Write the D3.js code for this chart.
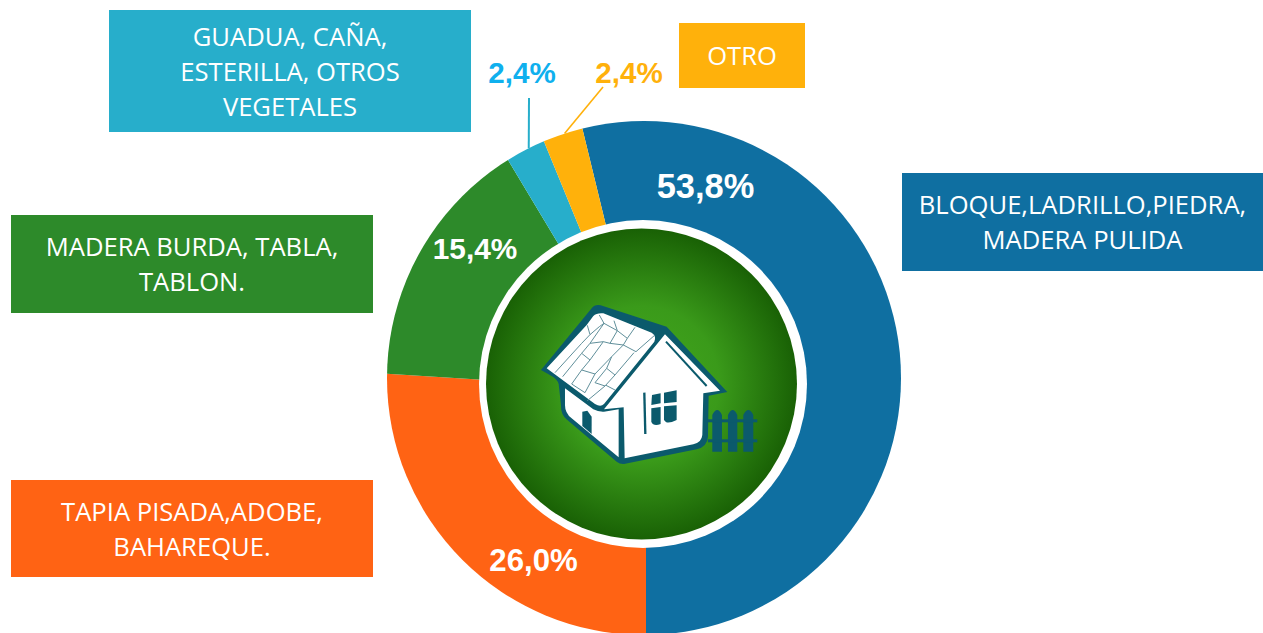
<!DOCTYPE html>
<html>
<head>
<meta charset="utf-8">
<script src="https://cdn.jsdelivr.net/npm/d3@7"></script>
<style>
  html, body { margin: 0; padding: 0; background: #fff; overflow: hidden; }
</style>
</head>
<body>
<div id="viz"></div>
<script>
"use strict";

const categories = ["BLOQUE,LADRILLO,PIEDRA, MADERA PULIDA", "TAPIA PISADA,ADOBE, BAHAREQUE.", "MADERA BURDA, TABLA, TABLON.", "GUADUA, CAÑA, ESTERILLA, OTROS VEGETALES", "OTRO"];
const values = [53.8, 26.0, 15.4, 2.4, 2.4];
const valueLabels = ["53,8%", "26,0%", "15,4%", "2,4%", "2,4%"];
const boxLines = [
    ["BLOQUE,LADRILLO,PIEDRA,", "MADERA PULIDA"],
    ["TAPIA PISADA,ADOBE,", "BAHAREQUE."],
    ["MADERA BURDA, TABLA,", "TABLON."],
    ["GUADUA, CAÑA,", "ESTERILLA, OTROS", "VEGETALES"],
    ["OTRO"]
];

const colors = ["#0f6fa1", "#ff6314", "#2d8a2a", "#27aecb", "#ffb10b"];
const labelColors = ["#fff", "#fff", "#fff", "#0fb0ee", "#ffb10b"];
const labelSizes = [34.4, 31.2, 29.8, 29.6, 29.6];
const labelPos = [[705.5, 186], [533.5, 560], [475, 248], [522, 72], [629, 72]];
const boxes = [[902, 173, 361, 98], [11, 480, 362, 97], [11, 215, 362, 98], [109, 10, 362, 122], [679, 23, 126, 65]];

const width = 1263, height = 633;
// the wedges meet lower than the centre of the outer circle, same as the picture
const pieX = 646, pieY = 390;
const cx = 644, cy = 378, outerR = 257;

const svg = d3.select("#viz").append("svg")
    .attr("width", width)
    .attr("height", height)
    .style("display", "block");

const defs = svg.append("defs");
defs.append("clipPath").attr("id", "ring")
    .append("circle").attr("cx", cx).attr("cy", cy).attr("r", outerR);

// pie goes clockwise, blue ends straight down at the bottom
const startAngle = Math.PI - values[0] / 100 * 2 * Math.PI;
const pie = d3.pie().sort(null)
    .startAngle(startAngle)
    .endAngle(startAngle + 2 * Math.PI);
const arc = d3.arc().innerRadius(0).outerRadius(320);
const arcs = pie(values);

const donut = svg.append("g").attr("clip-path", "url(#ring)")
    .append("g").attr("transform", `translate(${pieX},${pieY})`);
donut.selectAll("path")
    .data(arcs)
    .enter()
    .append("path")
    .attr("d", arc)
    .attr("fill", (d, i) => colors[i]);

// leader lines for the two small slices
const leaderEnds = { 3: [529, 98], 4: [603, 87] };
Object.keys(leaderEnds).forEach(i => {
    const a = (arcs[i].startAngle + arcs[i].endAngle) / 2;
    svg.append("line")
        .attr("x1", cx + outerR * Math.sin(a))
        .attr("y1", cy - outerR * Math.cos(a))
        .attr("x2", leaderEnds[i][0])
        .attr("y2", leaderEnds[i][1])
        .attr("stroke", colors[i])
        .attr("stroke-width", i == 3 ? 2 : 1.6);
});

// centre disc
const grad = defs.append("radialGradient").attr("id", "disc");
grad.append("stop").attr("offset", "0%").attr("stop-color", "#44a81e");
grad.append("stop").attr("offset", "50%").attr("stop-color", "#3a9a1a");
grad.append("stop").attr("offset", "100%").attr("stop-color", "#196105");

svg.append("circle").attr("cx", 643).attr("cy", 384).attr("r", 164).attr("fill", "#fff");
svg.append("circle").attr("cx", 641.5).attr("cy", 384).attr("r", 155.5).attr("fill", "url(#disc)");

// house icon, traced in zoom coordinates
const dark = "#0b5a6c";
const house = svg.append("g").attr("transform", "translate(480,220) scale(0.3333)");
house.append("path").attr("fill", dark)
    .attr("d", "M183,450 L335,265 Q345,252 362,256 L560,320 L742,516 L686,527 L684,650 Q682,680 650,688 L432,732 Q420,733 410,725 L262,600 Q242,585 243,555 L236,492 Q232,478 215,468 Z");
house.append("path").attr("fill", "#fff")
    .attr("d", "M555,343 L720,512 L670,520 L667,645 Q665,668 640,673 L434,715 L431,562 L372,568 Z");
house.append("path").attr("fill", "#fff")
    .attr("d", "M255,505 L340,568 Q355,576 372,575 L416,568 L416,712 L275,595 Q255,580 255,555 Z");
house.append("path").attr("stroke", dark).attr("stroke-width", 6).attr("fill", "none").attr("d", "M558,365 L680,498");
house.append("path").attr("stroke", dark).attr("stroke-width", 7).attr("fill", "none").attr("d", "M493,518 L496,642");
house.append("path").attr("fill", dark).attr("d", "M307,575 L322,572 L335,590 L335,642 L307,618 Z");
[
    "M516,525 L542,520 L542,550 L514,555 Z", "M552,518 L590,511 L590,546 L552,550 Z",
    "M514,565 L542,561 L542,612 Q520,620 514,605 Z", "M552,559 L590,556 L590,600 Q565,612 557,605 L552,600 Z"
].forEach(d => house.append("path").attr("fill", dark).attr("d", d));

const roof = svg.append("g").attr("transform", "translate(540,300) scale(0.3333)");
roof.append("path").attr("fill", "#fff")
    .attr("d", "M20,205 L140,75 L160,48 Q170,38 190,40 L335,98 Q350,108 343,125 L192,312 Q182,322 165,312 Z");
const stones = [
    "M142,76 L150,104 L125,130 L45,218",
    "M150,104 L178,80 L192,70 L178,45",
    "M192,70 L232,92 L222,62",
    "M232,92 L262,115 L285,82",
    "M262,115 L250,135 L288,155 L345,105",
    "M232,92 L210,130 L250,135",
    "M192,70 L150,130 L190,125 L210,130",
    "M150,130 L125,160 L150,180 L190,125",
    "M150,180 L125,210 L165,222 L215,170 L250,135",
    "M125,160 L68,230",
    "M125,210 L95,252 L135,278 L165,222",
    "M215,170 L200,205 L225,225 L282,158",
    "M200,205 L165,248 L195,258 L225,225",
    "M195,258 L142,302",
    "M198,256 L225,270"
];
roof.selectAll("path.stone")
    .data(stones)
    .enter()
    .append("path")
    .attr("class", "stone")
    .attr("d", d => d)
    .attr("fill", "none")
    .attr("stroke", "#5f8f9a")
    .attr("stroke-width", 3);

// fence
[[697, 726], [744, 772], [790, 820]].forEach(p => {
    const m = (p[0] + p[1]) / 2;
    house.append("path").attr("fill", dark)
        .attr("d", `M${p[0]},695 L${p[0]},585 Q${m},555 ${p[1]},585 L${p[1]},695 Z`);
});
house.append("rect").attr("x", 684).attr("y", 598).attr("width", 148).attr("height", 9).attr("fill", dark);
house.append("rect").attr("x", 684).attr("y", 658).attr("width", 148).attr("height", 9).attr("fill", dark);

// percentage labels
svg.selectAll("text.pct")
    .data(valueLabels)
    .enter()
    .append("text")
    .attr("class", "pct")
    .text(d => d)
    .attr("x", (d, i) => labelPos[i][0])
    .attr("y", (d, i) => labelPos[i][1])
    .attr("text-anchor", "middle")
    .attr("dominant-baseline", "central")
    .attr("font-family", "'Liberation Sans', Arial, sans-serif")
    .attr("font-weight", "bold")
    .attr("font-size", (d, i) => labelSizes[i] + "px")
    .attr("fill", (d, i) => labelColors[i]);

// legend boxes
const lineH = 35;
const legend = svg.selectAll("g.box")
    .data(categories)
    .enter()
    .append("g")
    .attr("class", "box");

legend.append("rect")
    .attr("x", (d, i) => boxes[i][0])
    .attr("y", (d, i) => boxes[i][1])
    .attr("width", (d, i) => boxes[i][2])
    .attr("height", (d, i) => boxes[i][3])
    .attr("fill", (d, i) => colors[i]);

legend.each(function (d, i) {
    const b = boxes[i];
    const lines = boxLines[i];
    d3.select(this).selectAll("text")
        .data(lines)
        .enter()
        .append("text")
        .text(t => t)
        .attr("x", b[0] + b[2] / 2)
        .attr("y", (t, j) => b[1] + b[3] / 2 + (j - (lines.length - 1) / 2) * lineH)
        .attr("text-anchor", "middle")
        .attr("dominant-baseline", "central")
        .attr("font-family", "'Open Sans', sans-serif")
        .attr("font-size", "25.6px")
        .attr("fill", "#fff");
});
</script>
</body>
</html>
